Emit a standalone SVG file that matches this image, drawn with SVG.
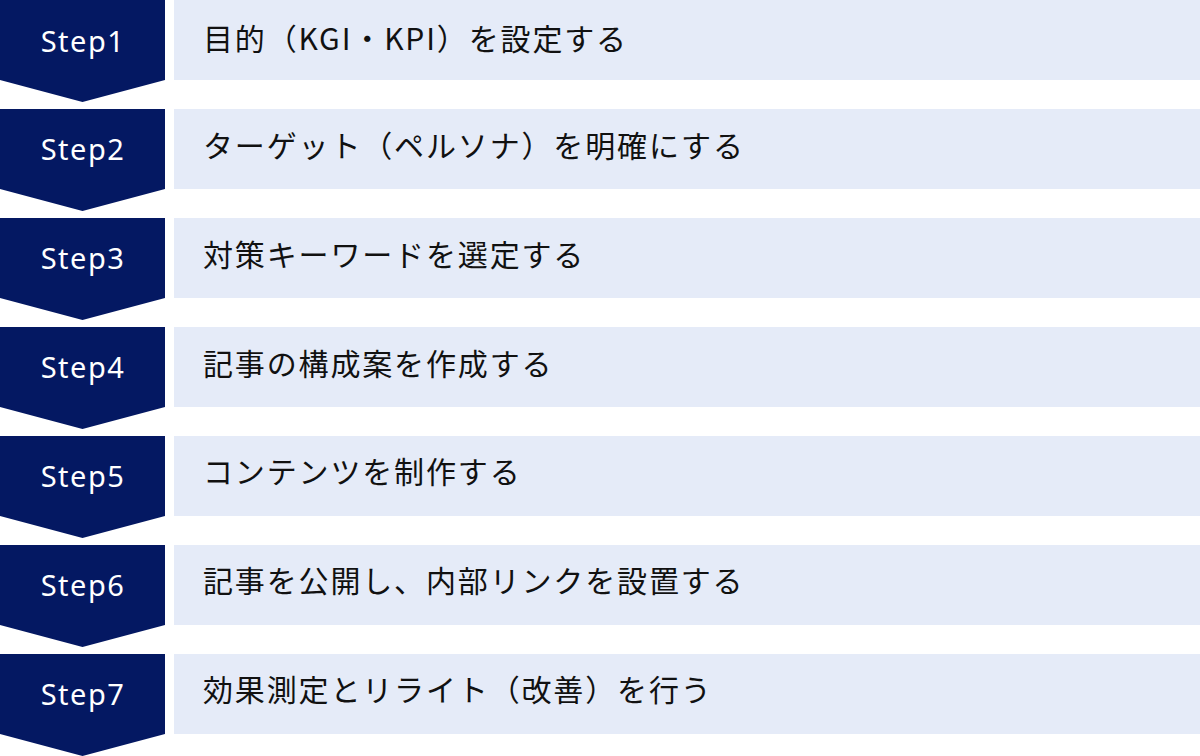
<svg xmlns="http://www.w3.org/2000/svg" width="1200" height="756" viewBox="0 0 1200 756">
<defs>
<style>
.chev{fill:#041862}
.box{fill:#e5ebf8}
.lbl{font-family:"Noto Sans","Noto Sans CJK JP",sans-serif;font-size:29px;fill:#ffffff;text-anchor:middle;letter-spacing:1.5px}
.txt{font-family:"Noto Sans CJK JP","Noto Sans",sans-serif;font-size:30px;fill:#111111;letter-spacing:1.85px}
</style>
<path id="chevShape" class="chev" d="M0 0H165V80L82.5 102L0 80Z"/>
<rect id="boxShape" class="box" x="174" y="0" width="1026" height="80"/>
</defs>
<g id="connectors"></g>
<g id="step1" transform="translate(0,0)">
<use href="#chevShape"/><use href="#boxShape"/>
<text class="lbl" x="83" y="52">Step1</text>
<text class="txt" x="203" y="50">目的（KGI・KPI）を設定する</text>
</g>
<g id="step2" transform="translate(0,109)">
<use href="#chevShape"/><use href="#boxShape"/>
<text class="lbl" x="83" y="51">Step2</text>
<text class="txt" x="203" y="48">ターゲット（ペルソナ）を明確にする</text>
</g>
<g id="step3" transform="translate(0,218)">
<use href="#chevShape"/><use href="#boxShape"/>
<text class="lbl" x="83" y="51">Step3</text>
<text class="txt" x="203" y="48">対策キーワードを選定する</text>
</g>
<g id="step4" transform="translate(0,327)">
<use href="#chevShape"/><use href="#boxShape"/>
<text class="lbl" x="83" y="51">Step4</text>
<text class="txt" x="203" y="48">記事の構成案を作成する</text>
</g>
<g id="step5" transform="translate(0,436)">
<use href="#chevShape"/><use href="#boxShape"/>
<text class="lbl" x="83" y="51">Step5</text>
<text class="txt" x="203" y="47">コンテンツを制作する</text>
</g>
<g id="step6" transform="translate(0,545)">
<use href="#chevShape"/><use href="#boxShape"/>
<text class="lbl" x="83" y="51">Step6</text>
<text class="txt" x="203" y="47">記事を公開し、内部リンクを設置する</text>
</g>
<g id="step7" transform="translate(0,654)">
<use href="#chevShape"/><use href="#boxShape"/>
<text class="lbl" x="83" y="51">Step7</text>
<text class="txt" x="203" y="47">効果測定とリライト（改善）を行う</text>
</g>
</svg>
